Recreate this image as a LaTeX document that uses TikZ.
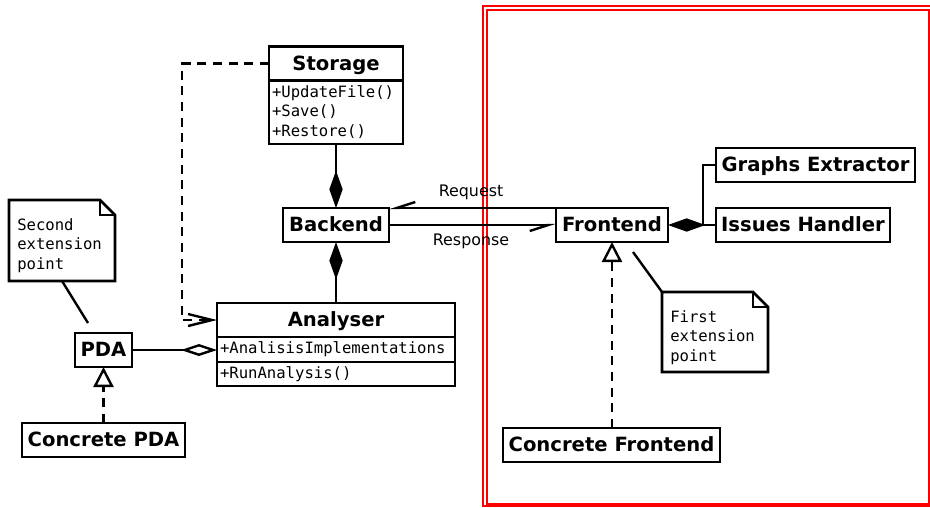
\documentclass[tikz,border=0pt]{standalone}
\usepackage{fontspec}
\setmainfont{DejaVu Sans}
\newfontfamily\monofont{DejaVu Sans Mono}
\usetikzlibrary{arrows.meta}
\tikzset{
 comp/.tip={Diamond[length=28pt,width=10pt]},
 aggr/.tip={Diamond[open,length=27pt,width=9pt,fill=white]},
 gen/.tip={Triangle[open,length=15pt,width=15pt,fill=white]},
 half/.tip={Straight Barb[harpoon,swap,length=14pt,width=9pt]},
 openarr/.tip={Straight Barb[length=18pt,width=9pt]},
}
\begin{document}
\begin{tikzpicture}[x=0.75pt,y=-0.75pt,
 box/.style={draw,line width=2pt,inner sep=0pt,outer sep=0pt,minimum height=25.5pt,text height=13pt,text depth=3pt,font=\fontsize{14.7}{17}\selectfont\bfseries},
 mem/.style={draw,line width=2pt,anchor=north west,inner xsep=2.25pt,inner ysep=0pt,outer sep=0pt,align=left,font=\fontsize{11.7}{14.6}\selectfont\monofont},
 notetext/.style={inner sep=0pt,anchor=west,align=left,font=\fontsize{11.7}{14.6}\selectfont\monofont},
 noteshape/.style={line width=2pt,line join=miter},
 conn/.style={line width=1.8pt},
 dsh/.style={line width=1.8pt,dash pattern=on 6.75pt off 5pt},
 lbl/.style={font=\fontsize{11.9}{13}\selectfont},
 frame/.style={draw=red,line width=1.5pt},
]
\useasboundingbox (0,0) rectangle (930,507);
% red frames
\draw[frame] (482.5,5.5) rectangle (932,506.3);
\draw[frame] (486.5,9.5) rectangle (928.5,504);

% Storage
\node[box,minimum width=100.5pt] (storage) at (336,63.5) {Storage};
\node[mem,text width=96pt,minimum height=48pt] (storagem) at (269,80) {+UpdateFile()\\+Save()\\+Restore()};

% Backend
\node[box,minimum width=79.5pt] (backend) at (336,225) {Backend};

% Analyser
\node[box,minimum width=178.5pt] (analyser) at (336,320) {Analyser};
\node[mem,text width=174pt,minimum height=18.75pt] (analysera) at (217,337) {+AnalisisImplementations};
\node[mem,text width=174pt,minimum height=18pt] (analysero) at (217,362) {+RunAnalysis()};

% PDA
\node[box,minimum width=42.75pt] (pda) at (103.5,350) {PDA};
\node[box,minimum width=122.25pt] (cpda) at (103.5,440) {Concrete PDA};

% Frontend side
\node[box,minimum width=84pt] (frontend) at (612,225) {Frontend};
\node[box,minimum width=149.25pt] (graphs) at (815.5,165) {Graphs Extractor};
\node[box,minimum width=130.5pt] (issues) at (803,225) {Issues Handler};
\node[box,minimum width=162.75pt] (cfront) at (611.5,445) {Concrete Frontend};

% notes
\draw[noteshape] (9,200) -- (100,200) -- (115,215) -- (115,281) -- (9,281) -- cycle;
\draw[line width=1.2pt] (100,200) -- (100,215) -- (115,215);
\node[notetext] (note2) at (17,245.5) {Second\\extension\\point};
\draw[noteshape] (662,292) -- (753,292) -- (768,307) -- (768,372) -- (662,372) -- cycle;
\draw[line width=1.2pt] (753,292) -- (753,307) -- (768,307);
\node[notetext] (note1) at (670,337.5) {First\\extension\\point};
\coordinate (n2a) at (62,281);
\coordinate (n2b) at (88,323);
\coordinate (n1a) at (662,292);
\coordinate (n1b) at (633,252);
\draw[conn] (n2a) -- (n2b);
\draw[conn] (n1a) -- (n1b);

% connectors
\draw[conn,-{comp}] (storagem.south) -- (backend.north);
\draw[conn,-{comp}] (analyser.north) -- (backend.south);
\coordinate (dbend) at (182,320);
\draw[dsh,-{openarr}] (storage.west) -| (dbend) -- (analyser.west);
\draw[conn,-{aggr}] (pda.east) -- (pda.east -| analysera.west);
\draw[dsh,-{gen}] (pda.south |- cpda.north) -- (pda.south);
\draw[dsh,-{gen}] (frontend.south |- cfront.north) -- (frontend.south);
\draw[conn,-{half}] (frontend.north west) -- (backend.north east);
\draw[conn,-{half}] (backend.east) -- (frontend.west);
\node[lbl] (req) at (471,192) {Request};
\node[lbl] (resp) at (471,241) {Response};
\draw[conn,{comp}-] (frontend.east) -- (issues.west);
\coordinate (junc) at (703,225);
\draw[conn] (junc) |- (graphs.west);
\end{tikzpicture}
\end{document}
